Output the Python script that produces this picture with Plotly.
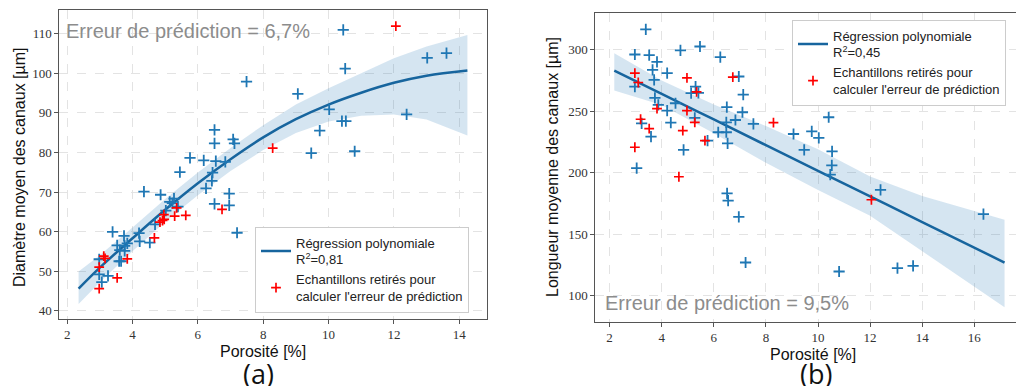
import plotly.graph_objects as go

# ---- panel (a): diamètre moyen ----
a_blue_x = [2.98, 2.98, 3.06, 3.25, 3.39, 3.53, 3.59, 3.65, 3.61, 3.74, 3.76, 3.76, 3.84, 4.2, 4.22,
            4.35, 4.53, 4.69, 4.86, 5.02, 5.14, 5.27, 5.22, 5.39, 5.45, 5.76, 6.18, 6.25, 6.43, 6.45,
            6.51, 6.51, 6.55, 6.51, 6.84, 6.96, 6.96, 7.08, 7.12, 7.2, 7.49, 9.06, 9.47, 9.73,
            10.02, 10.41, 10.53, 10.45, 10.51, 10.8, 12.39, 13.02, 13.61]
a_blue_y = [53.0, 49.2, 47.2, 48.8, 59.9, 56.5, 52.5, 52.5, 55.3, 58.9, 56.4, 55.1, 57.0, 59.6, 57.5,
            70.1, 57.2, 61.8, 69.3, 65.3, 67.5, 68.3, 67.2, 66.3, 75.0, 78.6, 78.0, 70.9, 72.8, 74.9,
            85.7, 82.3, 77.8, 67.0, 77.6, 69.6, 66.6, 83.3, 82.3, 59.7, 97.9, 94.8, 79.8, 85.5,
            90.9, 87.9, 87.9, 111.0, 101.2, 80.3, 89.6, 103.9, 105.1]
a_red_x = [2.98, 2.98, 3.12, 3.16, 3.53, 3.84, 4.67, 4.84, 4.92, 4.96, 4.97, 5.29, 5.35, 5.63, 6.74, 8.29, 12.06]
a_red_y = [51.0, 45.6, 53.8, 53.2, 48.3, 53.1, 58.4, 62.4, 62.8, 64.3, 63.1, 63.9, 66.0, 64.1, 65.6, 81.1, 111.9]

a_fit_x = [2.35, 3, 4, 5, 6, 7, 8, 9, 10, 11, 12, 13, 14.25]
a_fit_y = [45.6, 50.9, 58.3, 65.5, 72.2, 78.3, 83.8, 88.4, 92.1, 95.1, 97.6, 99.4, 100.7]
a_fit_up = [49.9, 54.0, 61.0, 68.2, 74.9, 81.1, 86.9, 92.1, 96.2, 100.0, 103.8, 106.8, 109.7]
a_fit_lo = [41.7, 47.2, 55.0, 62.5, 69.2, 75.3, 80.6, 84.9, 87.8, 89.3, 89.6, 88.3, 84.3]

# ---- panel (b): longueur moyenne ----
b_blue_x = [3.39, 2.97, 3.52, 3.82, 3.65, 3.71, 4.21, 2.97, 3.74, 3.87, 4.21, 4.35, 4.53, 4.72, 5.47,
            5.3, 5.13, 5.41, 5.27, 3.59, 3.23, 4.84, 3.04, 5.76, 6.25, 6.5, 6.48, 6.48, 6.17, 6.53,
            6.83, 6.96, 7.13, 7.1, 7.52, 6.51, 6.55, 6.96, 7.22, 9.06, 9.47, 9.76, 10.03, 10.41,
            10.54, 10.53, 10.47, 10.81, 12.4, 13.05, 13.65, 16.35]
b_blue_y = [316.6, 296.2, 295.7, 290.2, 283.7, 275.5, 281.0, 270.1, 260.9, 255.2, 250.5, 240.8, 256.5,
            299.5, 302.7, 270.1, 264.7, 264.9, 244.6, 229.3, 240.2, 218.5, 203.8, 226.1, 294.0, 253.3,
            241.0, 232.9, 232.9, 223.9, 242.9, 278.3, 263.6, 249.2, 239.7, 183.2, 177.2, 164.1, 126.9,
            231.5, 218.5, 233.7, 228.3, 245.1, 217.4, 206.0, 198.4, 119.6, 186.1, 122.3, 124.2, 166.3]
b_red_x = [2.97, 3.1, 2.97, 3.19, 3.52, 3.82, 4.66, 4.81, 4.97, 4.97, 5.27, 5.34, 5.66, 6.73, 8.29, 12.05]
b_red_y = [281.0, 273.4, 220.7, 243.5, 235.9, 252.2, 196.7, 234.2, 277.2, 250.5, 241.0, 265.8, 226.1, 277.7, 240.8, 178.0]

b_fit_x = [2.18, 4, 6, 8, 10, 12, 14, 17.16]
b_fit_y = [283.1, 264.1, 243.3, 222.4, 201.5, 180.7, 159.8, 126.9]
b_fit_up = [297.3, 275.0, 255.5, 238.0, 219.0, 197.0, 181.0, 161.8]
b_fit_lo = [266.8, 255.0, 232.0, 208.0, 186.0, 165.0, 136.0, 90.5]

W, H = 1016, 386
BLUE = '#1f77b4'
LINE = '#17659e'
BAND = 'rgba(31,119,180,0.19)'
SANS = 'Liberation Sans, Arial, sans-serif'
SERIF = 'Liberation Serif, DejaVu Serif, serif'


def fx(p):
    return p / W


def fy(p):
    return 1 - p / H


fig = go.Figure()

panels = [
    ('x', 'y', 'legend', a_fit_x, a_fit_y, a_fit_up, a_fit_lo, a_blue_x, a_blue_y, a_red_x, a_red_y, '0,81'),
    ('x2', 'y2', 'legend2', b_fit_x, b_fit_y, b_fit_up, b_fit_lo, b_blue_x, b_blue_y, b_red_x, b_red_y, '0,45'),
]
for xa, ya, lg, fxs, fys, up, lo, bx, by, rx, ry, r2 in panels:
    fig.add_trace(go.Scatter(x=fxs + fxs[::-1], y=up + lo[::-1], fill='toself', fillcolor=BAND,
                             line=dict(width=0), mode='lines', showlegend=False, hoverinfo='skip',
                             xaxis=xa, yaxis=ya))
    fig.add_trace(go.Scatter(x=fxs, y=fys, mode='lines', line=dict(color=LINE, width=2.5, shape='spline'),
                             name='Régression polynomiale<br>R<sup>2</sup>=' + r2, legend=lg,
                             xaxis=xa, yaxis=ya))
    fig.add_trace(go.Scatter(x=bx, y=by, mode='markers', showlegend=False,
                             marker=dict(symbol='cross-thin', size=8, line=dict(color=BLUE, width=1.8)),
                             xaxis=xa, yaxis=ya))
    fig.add_trace(go.Scatter(x=rx, y=ry, mode='markers', legend=lg,
                             name="Echantillons retirés pour<br>calculer l'erreur de prédiction",
                             marker=dict(symbol='cross-thin', size=7, line=dict(color='#ff0000', width=1.7)),
                             xaxis=xa, yaxis=ya))

axis_common = dict(showline=True, linecolor='#555555', linewidth=1.3, ticks='outside', ticklen=3.5,
                   tickcolor='#555555', showgrid=True, gridcolor='#e3e3e3', gridwidth=0.8,
                   griddash='dash', zeroline=False, automargin=False,
                   tickfont=dict(family=SERIF, size=13, color='#333333'))

legend_common = dict(bgcolor='white', bordercolor='#cccccc', borderwidth=1,
                     font=dict(family=SANS, size=13, color='#222222'), tracegroupgap=2)

fig.update_layout(
    width=W, height=H, margin=dict(l=0, r=0, t=0, b=0),
    paper_bgcolor='white', plot_bgcolor='white',
    xaxis=dict(domain=[fx(59), fx(487)], range=[1.75, 14.85], tickvals=list(range(2, 15, 2)),
               anchor='y', mirror=True, **axis_common),
    yaxis=dict(domain=[fy(319), fy(10)], range=[37.9, 116], tickvals=list(range(40, 111, 10)),
               anchor='x', mirror=True, **axis_common),
    xaxis2=dict(domain=[fx(595), 1.0], range=[1.44, 17.6], tickvals=list(range(2, 17, 2)),
                anchor='y2', mirror=True, **axis_common),
    yaxis2=dict(domain=[fy(322), fy(12.7)], range=[78.5, 330.2], tickvals=list(range(100, 301, 50)),
                anchor='x2', mirror=False, **axis_common),
    legend=dict(x=fx(255), y=fy(312.5), xanchor='left', yanchor='bottom', **legend_common),
    legend2=dict(x=fx(792), y=fy(19.5), xanchor='left', yanchor='top', **legend_common),
    showlegend=True,
)

ann = [
    dict(text='Erreur de prédiction = 6,7%', x=fx(64), y=fy(31.5), xanchor='left',
         font=dict(family=SANS, size=20, color='#8c8c8c')),
    dict(text='Erreur de prédiction = 9,5%', x=fx(603), y=fy(303), xanchor='left',
         font=dict(family=SANS, size=20, color='#8c8c8c')),
    dict(text='Diamètre moyen des canaux [µm]', x=fx(19), y=fy(167), textangle=-90,
         font=dict(family=SANS, size=16, color='#111111')),
    dict(text='Longueur moyenne des canaux [µm]', x=fx(552), y=fy(167), textangle=-90,
         font=dict(family=SANS, size=16, color='#111111')),
    dict(text='Porosité [%]', x=fx(263), y=fy(351.5), font=dict(family=SANS, size=16, color='#111111')),
    dict(text='Porosité [%]', x=fx(813), y=fy(354), font=dict(family=SANS, size=16, color='#111111')),
    dict(text='(a)', x=fx(258), y=fy(352.5), yanchor='top',
         font=dict(family='Open Sans, sans-serif', size=27, color='#111111')),
    dict(text='(b)', x=fx(816), y=fy(352.5), yanchor='top',
         font=dict(family='Open Sans, sans-serif', size=27, color='#111111')),
]
for a in ann:
    a.setdefault('xanchor', 'center')
    a.setdefault('yanchor', 'middle')
    fig.add_annotation(xref='paper', yref='paper', showarrow=False, **a)

fig.write_html('out.html', config={'displayModeBar': False},
               post_script="document.body.style.margin='0';document.body.style.overflow='hidden';")
